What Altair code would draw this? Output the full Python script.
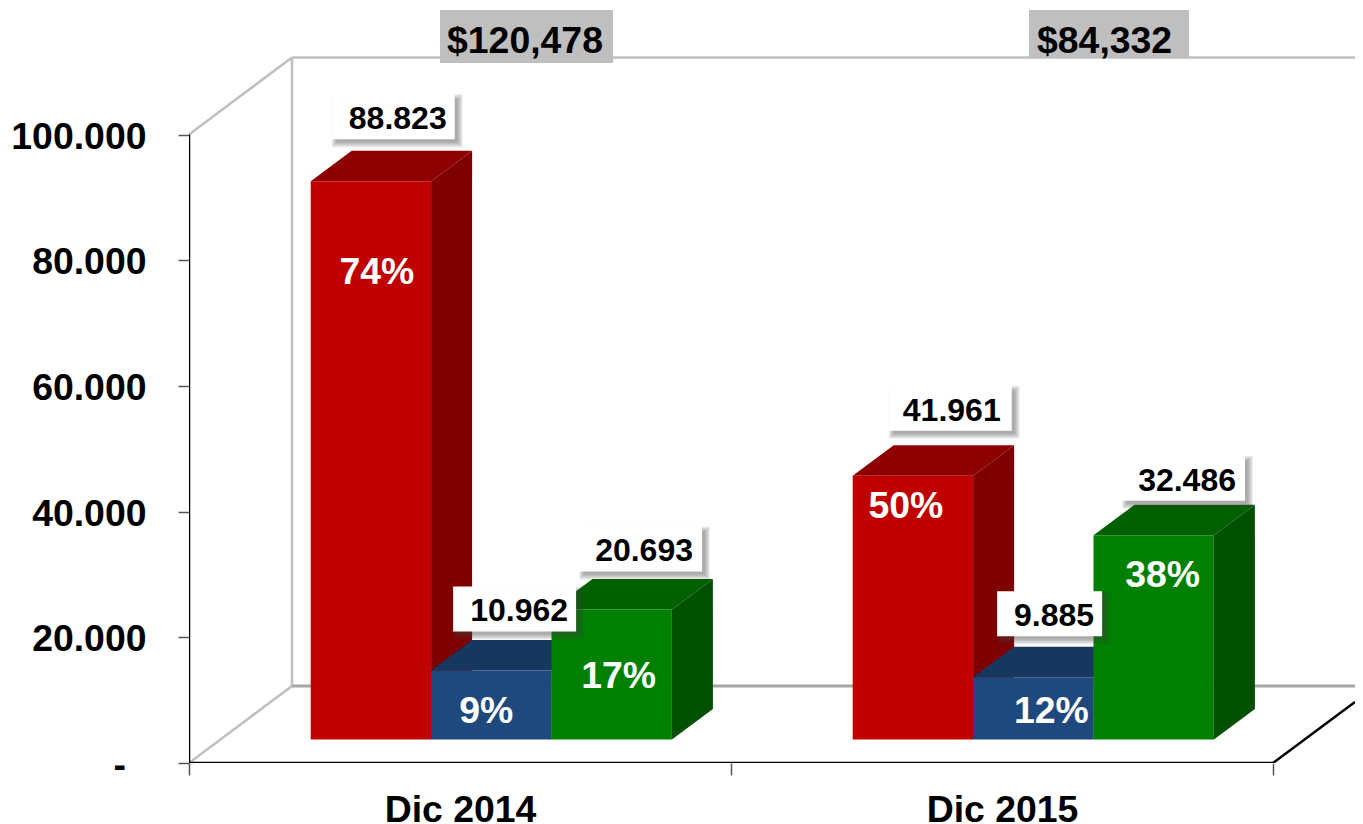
import json
import altair as alt
import pandas as pd

# ---- values ----
categories = ["Dic 2014", "Dic 2015"]
series = ["Rojo", "Azul", "Verde"]
rojo = [88823, 41961]
azul = [10962, 9885]
verde = [20693, 32486]
pct_rojo = ["74%", "50%"]
pct_azul = ["9%", "12%"]
pct_verde = ["17%", "38%"]
totals = ["$120,478", "$84,332"]
y_ticks = [0, 20000, 40000, 60000, 80000, 100000]

# ---- layout (pixels on the page) ----
PLOT_W, PLOT_H = 1166, 755
PX_PER_CAT = 542.0
PX_PER_VAL = 6.285 / 1000
X_MAX = PLOT_W / PX_PER_CAT
Y_MAX = PLOT_H / PX_PER_VAL


def xu(px):
    return px / PX_PER_CAT


def yu(px):
    return px / PX_PER_VAL


BAR_START = xu(121.7)
BAR_W = xu(120.4)
BASE = yu(23.5)
DX, DV = xu(41), yu(30.5)
WALL_X, WALL_V = xu(103), yu(77)

# label box offsets per series and category: from the bar's left edge, and above its top
box_dx = [[21, 36], [22, 24], [27.5, 28.5]]
box_up = [[42, 45], [39, 41], [38, 34.5]]
box_w = [[123, 123], [123, 105], [123, 123]]
BOX_H = 45
text_in = [[8, 11], [8, 8], [9, 9]]
# percentage offsets: from the bar's centre, and below its top
pct_dx = [[6, -7], [-5, 18], [7, 9]]
pct_dn = [[103, 42], [52, 46], [79, 51.5]]
# total boxes: left, right from category start; bottom from plot top
total_l = [251, 298]
total_r = [424, 458]
total_text = [258, 306]
total_bot = [55, 49]
TOTAL_TOP_PX = 2
TOTAL_BASE_PX = 45

colors = {
    "Rojo": ("#C00000", "#8E0000", "#7F0000"),
    "Azul": ("#1F497D", "#17375E", "#17375E"),
    "Verde": ("#008000", "#006000", "#005000"),
}
FONT = "Liberation Sans"
BIG = 37.4
values = [rojo, azul, verde]
pcts = [pct_rojo, pct_azul, pct_verde]

x_s = alt.Scale(domain=[0, X_MAX], nice=False, zero=False)
y_s = alt.Scale(domain=[0, Y_MAX], nice=False, zero=False)
X = alt.X("x:Q", scale=x_s, title=None)
Y = alt.Y("y:Q", scale=y_s, title=None)


def seg(rows, color, width):
    df = pd.DataFrame(
        [{"s": i, "o": j, "x": p[0], "y": p[1]} for i, r in enumerate(rows) for j, p in enumerate(r)]
    )
    return alt.Chart(df).mark_line(color=color, strokeWidth=width, clip=True).encode(
        x=X, y=Y, detail="s:N", order="o:Q"
    )


axis_lbl = json.dumps(categories)
x_axis = alt.Axis(
    values=[0, 0.5, 1, 1.5, 2],
    domain=False,
    grid=False,
    tickSize=12,
    tickColor="#555555",
    tickWidth=1.5,
    tickOpacity=alt.condition("datum.value % 1 == 0", alt.value(1), alt.value(0)),
    labelFont=FONT,
    labelFontSize=BIG,
    labelFontWeight="bold",
    labelColor="black",
    labelPadding=16,
    labelOverlap=False,
    labelBound=False,
    labelFlush=False,
    labelExpr=f"datum.value % 1 == 0 ? '' : {axis_lbl}[floor(datum.value)]",
    title=None,
)
y_axis = alt.Axis(
    values=y_ticks,
    domain=False,
    grid=False,
    tickSize=11,
    tickColor="#555555",
    tickWidth=1.5,
    labelFont=FONT,
    labelFontSize=BIG,
    labelFontWeight="bold",
    labelColor="black",
    labelPadding=32,
    labelOffset=2.5,
    labelOverlap=False,
    labelBound=False,
    labelFlush=False,
    labelExpr="datum.value == 0 ? '' : replace(format(datum.value, ',.0f'), ',', '.')",
    title=None,
)

base_axes = (
    alt.Chart(pd.DataFrame({"x": [0.0], "y": [0.0]}))
    .mark_point(opacity=0)
    .encode(x=alt.X("x:Q", scale=x_s, axis=x_axis), y=alt.Y("y:Q", scale=y_s, axis=y_axis))
)

layers = [base_axes]

# the zero tick reads as a dash, further left than the other tick labels
layers.append(
    alt.Chart(pd.DataFrame({"x": [0.0], "y": [0.0], "t": ["-"]}))
    .mark_text(font=FONT, fontSize=BIG, fontWeight="bold", align="right", baseline="middle",
               color="black", dx=-63, dy=2.5)
    .encode(x=X, y=Y, text="t:N")
)

# walls and floor
wall_top = 100000 + WALL_V
layers.append(seg([[(0, 0), (WALL_X, WALL_V)], [(0, 100000), (WALL_X, wall_top)],
                   [(WALL_X, WALL_V), (WALL_X, wall_top)], [(WALL_X, wall_top), (X_MAX, wall_top)]],
                  "#BFBFBF", 2.5))
layers.append(seg([[(WALL_X, WALL_V), (X_MAX, WALL_V)]], "#A6A6A6", 3))
layers.append(seg([[(2, 0), (X_MAX, (X_MAX - 2) * PX_PER_CAT * 0.745 / PX_PER_VAL)]], "black", 2.5))
layers.append(seg([[(0, 0), (2, 0)]], "black", 2.5))
layers.append(seg([[(0, 0), (0, 100000)]], "black", 2.5))

# total boxes
total_df = pd.DataFrame({
    "x": [i + xu(l) for i, l in enumerate(total_l)],
    "x2": [i + xu(r) for i, r in enumerate(total_r)],
    "y": [Y_MAX - yu(b) for b in total_bot],
    "y2": [Y_MAX - yu(TOTAL_TOP_PX)] * 2,
    "tx": [i + xu(t) for i, t in enumerate(total_text)],
    "ty": [Y_MAX - yu(TOTAL_BASE_PX)] * 2,
    "t": totals,
})
layers.append(alt.Chart(total_df).mark_rect(color="#BFBFBF").encode(x=X, x2="x2:Q", y=Y, y2="y2:Q"))
layers.append(
    alt.Chart(total_df)
    .mark_text(font=FONT, fontSize=BIG, fontWeight="bold", align="left", baseline="alphabetic", color="black")
    .encode(x=alt.X("tx:Q", scale=x_s, title=None), y=alt.Y("ty:Q", scale=y_s, title=None), text="t:N")
)

# 3-D bars, drawn series by series so each one covers the side of the previous
box_rows, pct_rows = [], []
for si, name in enumerate(series):
    front, top, side = colors[name]
    f_rows, t_rows, s_rows = [], [], []
    for ci, cat in enumerate(categories):
        v = values[si][ci] + BASE
        x0 = ci + BAR_START + si * BAR_W
        x1 = x0 + BAR_W
        f_rows.append({"x": x0, "x2": x1, "y": BASE, "y2": v})
        t_rows += [
            {"c": cat, "x": x0, "x2": x1, "y": v},
            {"c": cat, "x": x0 + DX, "x2": x1 + DX, "y": v + DV},
        ]
        s_rows += [
            {"c": cat, "x": x1, "y": BASE, "y2": v},
            {"c": cat, "x": x1 + DX, "y": BASE + DV, "y2": v + DV},
        ]
        bl = x0 + xu(box_dx[si][ci])
        br = bl + xu(box_w[si][ci])
        bb = v + yu(box_up[si][ci])
        box_rows.append({
            "x": bl, "x2": br, "y": bb, "y2": bb + yu(BOX_H),
            "tx": br - xu(text_in[si][ci]), "ty": bb + yu(10.2),
            "t": f"{values[si][ci]:,}".replace(",", "."),
        })
        pct_rows.append({
            "tx": x0 + BAR_W / 2 + xu(pct_dx[si][ci]),
            "ty": v - yu(pct_dn[si][ci]),
            "t": pcts[si][ci],
        })
    layers.append(
        alt.Chart(pd.DataFrame(s_rows)).mark_area(color=side, orient="vertical")
        .encode(x=X, y=Y, y2="y2:Q", detail="c:N")
    )
    layers.append(
        alt.Chart(pd.DataFrame(t_rows)).mark_area(color=top, orient="horizontal")
        .encode(x=X, x2="x2:Q", y=Y, detail="c:N")
    )
    layers.append(
        alt.Chart(pd.DataFrame(f_rows)).mark_rect(color=front).encode(x=X, x2="x2:Q", y=Y, y2="y2:Q")
    )

pct_df = pd.DataFrame(pct_rows)
layers.append(
    alt.Chart(pct_df)
    .mark_text(font=FONT, fontSize=BIG, fontWeight="bold", align="center", baseline="alphabetic", color="white")
    .encode(x=alt.X("tx:Q", scale=x_s, title=None), y=alt.Y("ty:Q", scale=y_s, title=None), text="t:N")
)

# value labels: soft shadow (offset box, widened step by step), white box, text
box_df = pd.DataFrame(box_rows)
SHADOW_OFF = 4
for spread in [4, 3, 2, 1, 0, -1]:
    sh = box_df.copy()
    sh["x"] += xu(SHADOW_OFF - spread)
    sh["x2"] += xu(SHADOW_OFF + spread)
    sh["y"] -= yu(SHADOW_OFF + spread)
    sh["y2"] -= yu(SHADOW_OFF - spread)
    layers.append(
        alt.Chart(sh).mark_rect(color="#404040", opacity=0.09).encode(x=X, x2="x2:Q", y=Y, y2="y2:Q")
    )
layers.append(alt.Chart(box_df).mark_rect(color="white").encode(x=X, x2="x2:Q", y=Y, y2="y2:Q"))
layers.append(
    alt.Chart(box_df)
    .mark_text(font=FONT, fontSize=32, fontWeight="bold", align="right", baseline="alphabetic", color="black")
    .encode(x=alt.X("tx:Q", scale=x_s, title=None), y=alt.Y("ty:Q", scale=y_s, title=None), text="t:N")
)

chart = (
    alt.layer(*layers)
    .properties(
        width=PLOT_W,
        height=PLOT_H,
        autosize=alt.AutoSizeParams(type="none"),
        padding={"left": 181, "top": 0, "right": 0, "bottom": 69},
        background="white",
    )
    .configure_view(stroke=None)
)
chart.save("out.html", embed_options={"renderer": "svg", "actions": False})
